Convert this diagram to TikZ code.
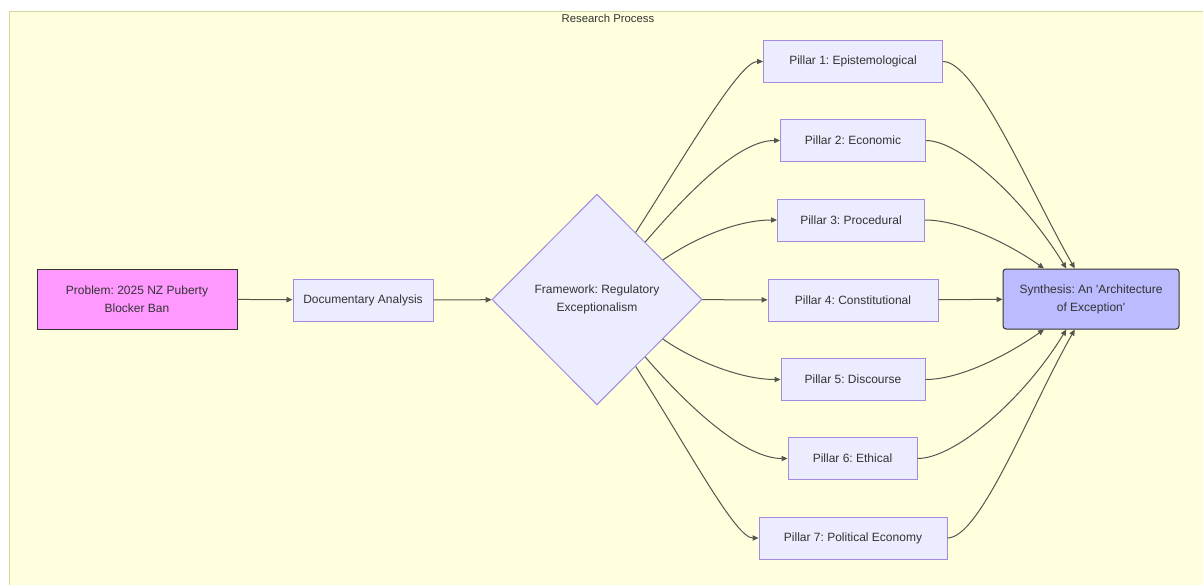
\documentclass[tikz,border=0pt]{standalone}
\usepackage{fontspec}
\setmainfont{Liberation Sans}
\usetikzlibrary{arrows.meta,shapes.geometric}
\frenchspacing

\definecolor{clusterfill}{HTML}{FFFFDE}
\definecolor{clusterline}{HTML}{D6D6A2}
\definecolor{nodefill}{HTML}{ECECFF}
\definecolor{nodeline}{HTML}{A48BE0}
\definecolor{probfill}{HTML}{FF99FF}
\definecolor{synfill}{HTML}{BBBBFF}
\definecolor{ink}{HTML}{333333}
\definecolor{edgeink}{HTML}{555550}

\tikzset{every picture/.style={line width=0.75pt}}
\tikzset{
  stepnode/.style={draw=nodeline, fill=nodefill, text=ink, inner sep=0pt, minimum height=31.5pt, font=\fontsize{9}{13.5}\selectfont, align=center},
  flow/.style={draw=edgeink, -{Triangle[length=4.5pt,width=4pt]}},
}

\begin{document}
\begin{tikzpicture}[x=0.75pt,y=0.75pt,yscale=-1,xscale=1]
\useasboundingbox (0,0) rectangle (1203,585);

%Background
\fill [white] (0,0) rectangle (1203,585);
\draw [draw=clusterline, fill=clusterfill] (9,12) rectangle (1210,592);

% Text Node
\node [text=ink, font=\fontsize{8.5}{10}\selectfont] (title) at (608,18) {Research Process};

%Left nodes
\node [stepnode, draw=ink, fill=probfill, minimum width=150pt, minimum height=45pt] (prob) at (137,299) {Problem: 2025 NZ Puberty\\Blocker Ban};
\node [stepnode, minimum width=105pt] (doc) at (363,300) {Documentary Analysis};
\node [stepnode, diamond, minimum width=157.5pt, minimum height=158pt] (frame) at (597,299.5) {Framework: Regulatory\\Exceptionalism};

%Pillars
\node [stepnode, minimum width=134.25pt] (p1) at (853,61.5) {Pillar 1: Epistemological};
\node [stepnode, minimum width=108.75pt] (p2) at (853,140.5) {Pillar 2: Economic};
\node [stepnode, minimum width=110.25pt] (p3) at (851,220) {Pillar 3: Procedural};
\node [stepnode, minimum width=127.5pt] (p4) at (853,300) {Pillar 4: Constitutional};
\node [stepnode, minimum width=108pt] (p5) at (853,379.5) {Pillar 5: Discourse};
\node [stepnode, minimum width=96.75pt] (p6) at (852.5,458.5) {Pillar 6: Ethical};
\node [stepnode, minimum width=141pt] (p7) at (853,538) {Pillar 7: Political Economy};

%Synthesis
\node [stepnode, draw=ink, fill=synfill, rounded corners=2.25pt, minimum width=132pt, minimum height=45pt] (syn) at (1091,299) {Synthesis: An \textquotesingle Architecture\\of Exception\textquotesingle};

%Straight Lines
\draw [flow] (prob) -- (doc);
\draw [flow] (doc) -- (frame);
\draw [flow] (frame) -- (p4);
\draw [flow] (p4) -- (syn);

%Curve Lines
\draw [flow] (frame.60) .. controls +(53,-83) and +(-23,0) .. (p1.west);
\draw [flow] (frame.50) .. controls +(44,-51) and +(-41,0) .. (p2.west);
\draw [flow] (frame.31) .. controls +(35,-24) and +(-37,0) .. (p3.west);
\draw [flow] (frame.-31) .. controls +(35,24) and +(-37,0) .. (p5.west);
\draw [flow] (frame.-50) .. controls +(44,51) and +(-43,0) .. (p6.west);
\draw [flow] (frame.-60) .. controls +(53,83) and +(-23,0) .. (p7.west);

\draw [flow] (p1.east) .. controls +(33,0) and +(-45,-79) .. (syn.118);
\draw [flow] (p2.east) .. controls +(34,0) and +(-42,-69) .. (syn.129);
\draw [flow] (p3.east) .. controls +(36,0) and +(-34,-24) .. (syn.147);
\draw [flow] (p5.east) .. controls +(36,0) and +(-34,24) .. (syn.-147);
\draw [flow] (p6.east) .. controls +(38,0) and +(-42,69) .. (syn.-129);
\draw [flow] (p7.east) .. controls +(33,0) and +(-45,79) .. (syn.-118);

\end{tikzpicture}
\end{document}
